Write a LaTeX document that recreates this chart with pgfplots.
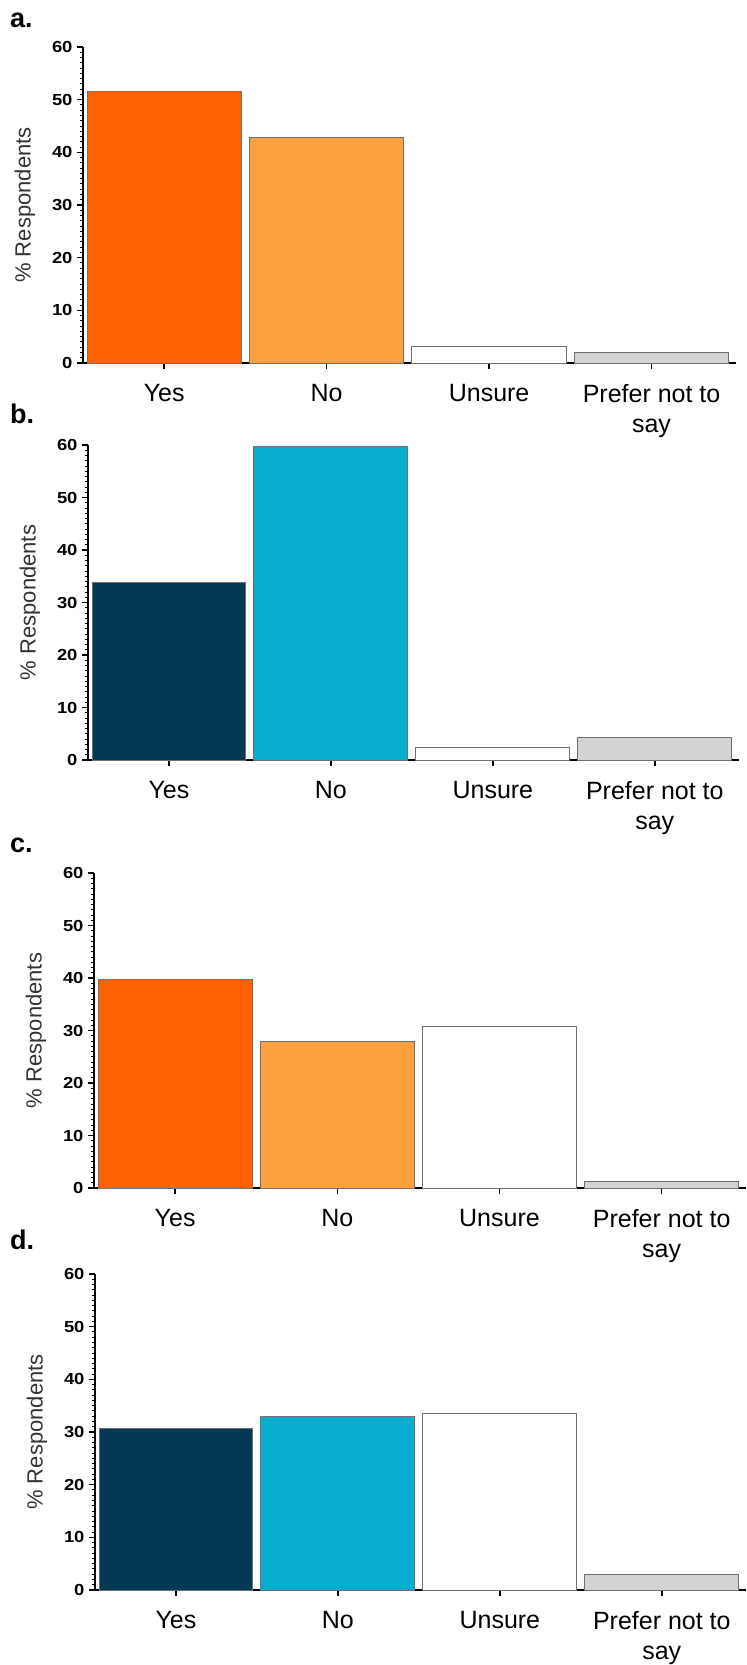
\documentclass[border=0pt]{standalone}
\usepackage{fontspec}
\setmainfont{Liberation Sans}
\usepackage{pgfplots}
\pgfplotsset{compat=1.18}
\definecolor{cOrange}{HTML}{FF6200}
\definecolor{cLightOrange}{HTML}{FFA040}
\definecolor{cNavy}{HTML}{023A56}
\definecolor{cCyan}{HTML}{08ACCE}
\definecolor{cGray}{HTML}{D3D3D3}
\definecolor{cEdge}{HTML}{707070}
\pgfplotsset{
  panel/.style={
    scale only axis,
    anchor=south west,
    xmin=-0.5, xmax=3.52,
    ymin=0, ymax=60,
    axis x line*=bottom,
    axis y line*=left,
    axis line style={line width=2bp, black},
    xtick={0,1,2,3},
    xticklabels={Yes,No,Unsure,{Prefer not to\\say}},
    ytick={0,10,20,30,40,50,60},
    minor y tick num=9,
    tick align=outside,
    major tick length=6bp,
    minor tick length=3bp,
    every tick/.style={black, line width=1.5bp},
    minor tick style={line width=1bp},
    /pgf/number format/assume math mode=true,
    yticklabel={\scalebox{1.15}[1]{\pgfmathprintnumber{\tick}}},
    yticklabel style={font=\fontsize{16bp}{18bp}\selectfont\bfseries, xshift=-1bp},
    xticklabel style={font=\fontsize{25bp}{30bp}\selectfont, align=center, yshift=-12bp},
    ylabel={\% Respondents},
    every axis y label/.style={at={(axis description cs:-0.089,0.5)}, rotate=90, anchor=center,
      font=\fontsize{22bp}{26bp}\selectfont, color=black!80},
    clip=false,
  },
  bar/.style={ybar, bar width=0.95, bar shift=0pt, draw=cEdge, line width=1bp},
}
\begin{document}
\begin{tikzpicture}
\path[use as bounding box] (0,0) rectangle (747bp,-1665bp);
\tikzset{lab/.style={font=\fontsize{27bp}{30bp}\selectfont\bfseries, anchor=west, inner sep=0pt}}
\node[lab] at (10bp,-20bp) {a.};
\node[lab] at (10bp,-414bp) {b.};
\node[lab] at (10bp,-845bp) {c.};
\node[lab] at (10bp,-1240bp) {d.};
% Panel a
\begin{axis}[panel, at={(83bp,-363bp)}, width=653bp, height=316bp]
\addplot[bar, fill=cOrange] coordinates {(0,51.6)};
\addplot[bar, fill=cLightOrange] coordinates {(1,42.9)};
\addplot[bar, fill=white] coordinates {(2,3.1)};
\addplot[bar, fill=cGray] coordinates {(3,2.0)};
\end{axis}
% Panel b
\begin{axis}[panel, at={(88bp,-760bp)}, width=651bp, height=315bp]
\addplot[bar, fill=cNavy] coordinates {(0,33.8)};
\addplot[bar, fill=cCyan] coordinates {(1,59.8)};
\addplot[bar, fill=white] coordinates {(2,2.4)};
\addplot[bar, fill=cGray] coordinates {(3,4.2)};
\end{axis}
% Panel c
\begin{axis}[panel, at={(94bp,-1188bp)}, width=652bp, height=315bp]
\addplot[bar, fill=cOrange] coordinates {(0,39.8)};
\addplot[bar, fill=cLightOrange] coordinates {(1,27.9)};
\addplot[bar, fill=white] coordinates {(2,30.8)};
\addplot[bar, fill=cGray] coordinates {(3,1.2)};
\end{axis}
% Panel d
\begin{axis}[panel, at={(95bp,-1590bp)}, width=651bp, height=316bp]
\addplot[bar, fill=cNavy] coordinates {(0,30.6)};
\addplot[bar, fill=cCyan] coordinates {(1,32.9)};
\addplot[bar, fill=white] coordinates {(2,33.5)};
\addplot[bar, fill=cGray] coordinates {(3,3.0)};
\end{axis}
\end{tikzpicture}
\end{document}
